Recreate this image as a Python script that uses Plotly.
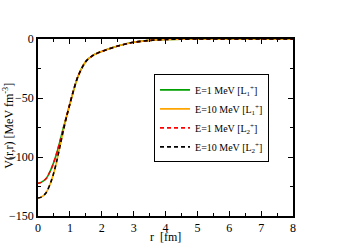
import plotly.graph_objects as go

r_vals = [0.0, 0.1, 0.25, 0.4, 0.5, 0.6, 0.7, 0.8, 0.9, 1.0, 1.1, 1.25, 1.5, 1.75, 2.0, 2.5, 3.0, 3.5, 4.0, 4.5, 5.0, 6.0, 7.0, 8.0]
v_e1 = [-122.3, -121.5, -118.5, -111.0, -104.0, -95.5, -85.5, -75.0, -65.0, -55.0, -45.0, -32.0, -19.0, -13.5, -10.5, -6.0, -2.8, -1.2, -0.4, -0.1, 0.0, 0.0, 0.0, 0.0]
v_e10 = [-134.7, -134.0, -130.5, -121.5, -113.0, -102.0, -89.5, -77.0, -65.5, -55.0, -45.0, -32.0, -19.0, -13.5, -10.5, -6.0, -2.8, -1.2, -0.4, -0.1, 0.0, 0.0, 0.0, 0.0]

series = [
    ("E=1 MeV [L<sub>1</sub><sup>+</sup>]", v_e1, "#00a000", "solid"),
    ("E=10 MeV [L<sub>1</sub><sup>+</sup>]", v_e10, "#ffa500", "solid"),
    ("E=1 MeV [L<sub>2</sub><sup>+</sup>]", v_e1, "#ff0000", "4px,3px"),
    ("E=10 MeV [L<sub>2</sub><sup>+</sup>]", v_e10, "#000000", "4px,3px"),
]

x_title = "r  [fm]"
y_title = "V(r,r) [MeV fm<sup>-3</sup>]"

fig = go.Figure()
for name, v, c, d in series:
    fig.add_trace(go.Scatter(x=r_vals, y=v, mode="lines", name=name,
                             line=dict(color=c, width=1.6, dash=d, shape="spline", smoothing=0.8)))

font = "Liberation Serif, Times New Roman, serif"
fig.update_layout(
    width=351, height=248,
    margin=dict(l=38, r=58, t=39, b=32, autoexpand=False),
    paper_bgcolor="white", plot_bgcolor="white",
    font=dict(family=font, size=12, color="black"),
    showlegend=True,
    legend=dict(x=0.455, y=0.8, xanchor="left", yanchor="top",
                bordercolor="black", borderwidth=1, bgcolor="white",
                font=dict(family=font, size=10), tracegroupgap=0,
                itemwidth=30),
)
fig.add_annotation(text=x_title, xref="paper", yref="paper", x=0.5, y=0,
                   yshift=-21, xanchor="center", yanchor="middle", showarrow=False,
                   font=dict(family=font, size=12))
fig.add_annotation(text=y_title, xref="paper", yref="paper", x=0, y=0.51,
                   xshift=-29, xanchor="center", yanchor="middle", textangle=-90,
                   showarrow=False, font=dict(family=font, size=12))
fig.update_xaxes(range=[0, 8], tickvals=[0, 1, 2, 3, 4, 5, 6, 7, 8],
                 automargin=False,
                 ticks="inside", ticklen=5, tickwidth=1, tickcolor="black",
                 minor=dict(dtick=0.5, ticks="inside", ticklen=3, tickcolor="black"),
                 showline=True, linecolor="black", linewidth=1.5, mirror="allticks",
                 showgrid=False, zeroline=False)
fig.update_yaxes(range=[-150, 0], tickvals=[-150, -100, -50, 0],
                 automargin=False,
                 ticks="inside", ticklen=5, tickwidth=1, tickcolor="black",
                 minor=dict(dtick=25, ticks="inside", ticklen=3, tickcolor="black"),
                 showline=True, linecolor="black", linewidth=1.5, mirror="allticks",
                 showgrid=False, zeroline=False)

fig.write_html("out.html", config={"displayModeBar": False},
               post_script="document.body.style.margin='0';document.body.style.overflow='hidden';")
